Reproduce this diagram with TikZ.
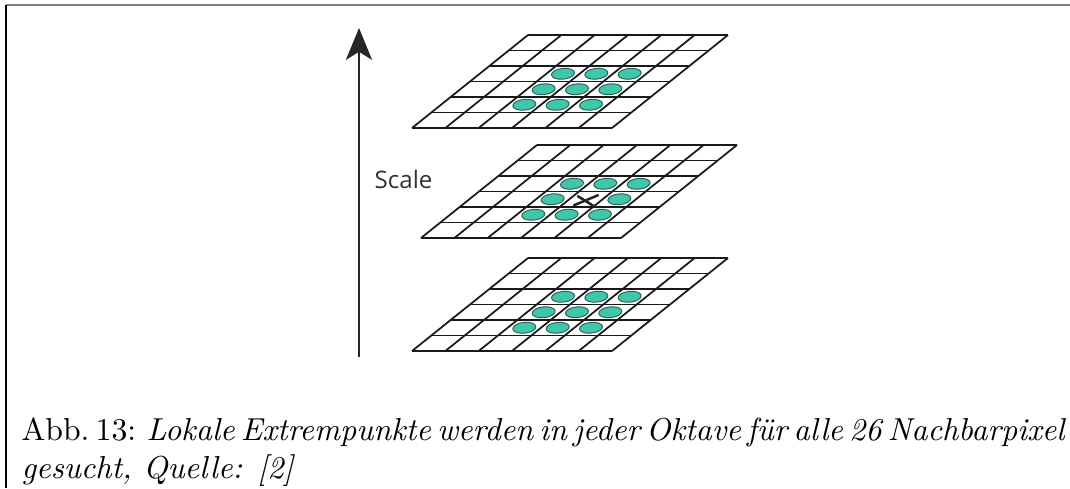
\documentclass[tikz,border=0pt]{standalone}
\usepackage{fontspec}
\newfontfamily\scalefont{Open Sans}
\usepackage{xcolor}
\usepackage{tikz}
\usetikzlibrary{positioning,arrows.meta,shapes.geometric}
\definecolor{blobfill}{RGB}{64,198,168}
\definecolor{blobline}{RGB}{45,95,85}

\begin{document}
\begin{tikzpicture}[x=0.315pt, y=0.315pt,
  gridln/.style={line width=0.55pt, draw=black!90},
  blob/.style={ellipse, draw=blobline, line width=0.3pt, fill=blobfill,
               minimum width=7.3pt, minimum height=3.4pt, inner sep=0pt, rotate=6},
  crossln/.style={line width=0.8pt, line cap=round, draw=black!85},
  scl/.style={line width=0.9pt, draw=black!85},
  lb/.style={inner sep=0pt, anchor=base west}]

  \useasboundingbox (0,0) rectangle (1070,-488);

  % frame
  \coordinate (ftl) at (6,-5);
  \coordinate (ftr) at (1070,-5);
  \coordinate (fbl) at (6,-488);
  \draw[gray, line width=0.6pt] (ftr) -- (ftl);
  \draw[line width=0.5pt] (ftl) -- (fbl);

  % scale axis
  \coordinate (sbot) at (359,-357);
  \coordinate (stop) at (359,-28);
  \draw[scl, -{Stealth[length=10pt, width=8.2pt, inset=2.5pt]}] (sbot) -- (stop);
  \node[lb, font=\scalefont\fontsize{7.6pt}{9pt}\selectfont, text=black!80] (scale)
    at (374,-188) {Scale};

  % the three planes
  \foreach \nm/\ox/\oy in {top/412/128, mid/421/238, bot/412/351} {
    \begin{scope}[shift={(\ox,-\oy)}, cm={33.33,0,19.33,15.5,(0,0)}]
      \foreach \i in {0,...,6} {
        \draw[gridln] (\i,0) -- (\i,6);
        \draw[gridln] (0,\i) -- (6,\i);
      }
      \foreach \c/\r in {2/1,3/1,4/1,2/2,4/2,2/3,3/3,4/3}
        \node[blob] (\nm-\c-\r) at (\c+0.5,\r+0.5) {};
      \coordinate (\nm-c) at (3.5,2.5);
    \end{scope}
  }
  \node[blob] (top-3-2) at (top-c) {};
  \node[blob] (bot-3-2) at (bot-c) {};

  % candidate pixel
  \draw[crossln] ([shift={(-12,-6)}]mid-c) -- ([shift={(12,4)}]mid-c);
  \draw[crossln] ([shift={(-8,3)}]mid-c) -- ([shift={(8,-7)}]mid-c);

  % caption
  \node[lb] (cap1) at (21,-440) {\makebox[329pt][s]{\spaceskip=0.24em plus 0.3em minus 0.05em
    Abb.~13: \textit{Lokale Extrempunkte werden in jeder Oktave für alle 26 Nachbarpixel}}};
  \node[lb] (cap2) at (21,-478) {\textit{gesucht, Quelle: [2]}};
\end{tikzpicture}
\end{document}
